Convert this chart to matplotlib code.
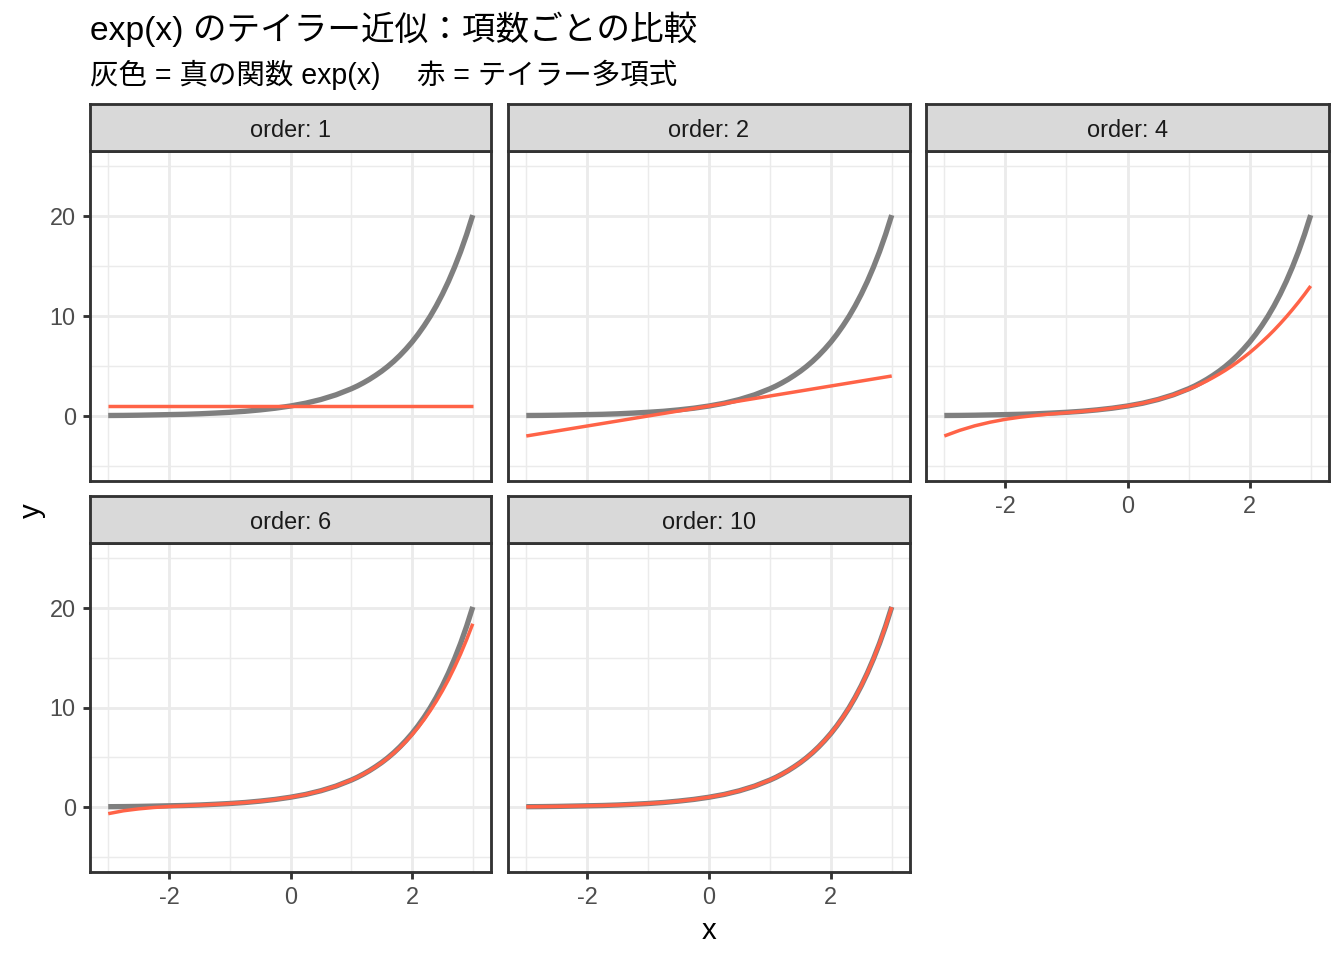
import numpy as np
import matplotlib.pyplot as plt

plt.rcParams['font.family'] = ['Liberation Sans', 'Noto Sans CJK JP', 'DejaVu Sans']
plt.rcParams['axes.unicode_minus'] = False

# sample points along x (denser where the curves bend)
x = [-3.0, -2.75, -2.5, -2.25, -2.0, -1.75, -1.5, -1.25, -1.0, -0.75, -0.5, -0.25,
     0.0, 0.25, 0.5, 0.75,
     1.0, 1.1, 1.2, 1.3, 1.4, 1.5, 1.6, 1.7, 1.8, 1.9,
     2.0, 2.1, 2.2, 2.3, 2.4, 2.5, 2.6, 2.7, 2.8, 2.9, 3.0]

# grey curve: true exp(x)
true_y = [0.05, 0.06, 0.08, 0.11, 0.14, 0.17, 0.22, 0.29, 0.37, 0.47, 0.61, 0.78,
          1.0, 1.28, 1.65, 2.12,
          2.72, 3.00, 3.32, 3.67, 4.06, 4.48, 4.95, 5.47, 6.05, 6.69,
          7.39, 8.17, 9.03, 9.97, 11.02, 12.18, 13.46, 14.88, 16.44, 18.17, 20.09]

# red curves: Taylor polynomial per panel
taylor_1 = [1.0] * 37
taylor_2 = [-2.0, -1.75, -1.5, -1.25, -1.0, -0.75, -0.5, -0.25, 0.0, 0.25, 0.5, 0.75,
            1.0, 1.25, 1.5, 1.75,
            2.0, 2.1, 2.2, 2.3, 2.4, 2.5, 2.6, 2.7, 2.8, 2.9,
            3.0, 3.1, 3.2, 3.3, 3.4, 3.5, 3.6, 3.7, 3.8, 3.9, 4.0]
taylor_4 = [-2.0, -1.44, -0.98, -0.62, -0.33, -0.11, 0.06, 0.21, 0.33, 0.46, 0.60, 0.78,
            1.0, 1.28, 1.65, 2.10,
            2.67, 2.93, 3.21, 3.51, 3.84, 4.19, 4.56, 4.96, 5.39, 5.85,
            6.33, 6.85, 7.40, 7.97, 8.58, 9.23, 9.91, 10.63, 11.38, 12.17, 13.0]
taylor_6 = [-0.65, -0.36, -0.17, -0.03, 0.07, 0.14, 0.21, 0.28, 0.37, 0.47, 0.61, 0.78,
            1.0, 1.28, 1.65, 2.12,
            2.72, 3.00, 3.32, 3.66, 4.04, 4.46, 4.92, 5.43, 5.99, 6.60,
            7.27, 8.00, 8.80, 9.68, 10.63, 11.67, 12.80, 14.04, 15.37, 16.83, 18.4]
taylor_10 = [0.04, 0.06, 0.08, 0.11, 0.14, 0.17, 0.22, 0.29, 0.37, 0.47, 0.61, 0.78,
             1.0, 1.28, 1.65, 2.12,
             2.72, 3.00, 3.32, 3.67, 4.06, 4.48, 4.95, 5.47, 6.05, 6.69,
             7.39, 8.17, 9.03, 9.97, 11.02, 12.18, 13.46, 14.87, 16.44, 18.16, 20.06]

orders = [1, 2, 4, 6, 10]
approx = [taylor_1, taylor_2, taylor_4, taylor_6, taylor_10]

W, H = 1344, 960
fig = plt.figure(figsize=(7, 5), dpi=192)

col_x = [(90, 491), (508, 910), (926, 1329)]
row_y = [(104, 151, 481), (496, 543, 872)]

def box(x0, x1, y0, y1):
    return [x0 / W, 1 - y1 / H, (x1 - x0) / W, (y1 - y0) / H]

for i, (order, yy) in enumerate(zip(orders, approx)):
    r, c = divmod(i, 3)
    x0, x1 = col_x[c]
    s0, p0, p1 = row_y[r]

    ax = fig.add_axes(box(x0, x1, p0, p1))
    ax.plot(x, true_y, color='#7F7F7F', lw=2.0, solid_capstyle='butt', zorder=3)
    ax.plot(x, yy, color='#FF6347', lw=1.3, solid_capstyle='butt', zorder=4)
    ax.set_xlim(-3.3, 3.3)
    ax.set_ylim(-6.5, 26.5)
    ax.set_xticks([-2, 0, 2])
    ax.set_yticks([0, 10, 20])
    ax.set_xticks([-3, -1, 1, 3], minor=True)
    ax.set_yticks([-5, 5, 15, 25], minor=True)
    ax.grid(which='major', color='#EBEBEB', lw=1.07, zorder=0)
    ax.grid(which='minor', color='#EBEBEB', lw=0.53, zorder=0)
    ax.set_axisbelow(True)
    for sp in ax.spines.values():
        sp.set_color('#333333')
        sp.set_linewidth(1.07)
    ax.tick_params(which='minor', length=0)
    ax.tick_params(which='major', length=2.75, width=1.07, color='#333333',
                   labelsize=8.8, labelcolor='#4D4D4D', pad=2.6)
    if c != 0:
        ax.tick_params(axis='y', left=False, labelleft=False)
    if not (r == 1 or c == 2):
        ax.tick_params(axis='x', bottom=False, labelbottom=False)

    st = fig.add_axes(box(x0, x1, s0, p0))
    st.set_facecolor('#D9D9D9')
    st.set_xticks([])
    st.set_yticks([])
    for sp in st.spines.values():
        sp.set_color('#333333')
        sp.set_linewidth(1.07)
    st.text(0.5, 0.44, f'order: {order}', ha='center', va='center',
            fontsize=8.8, color='#1A1A1A', transform=st.transAxes)

fig.text(90 / W, 1 - 29 / H, 'exp(x) のテイラー近似：項数ごとの比較',
         fontsize=12.6, ha='left', va='center', color='black')
fig.text(90 / W, 1 - 75 / H, '灰色 = 真の関数 exp(x)　 赤 = テイラー多項式',
         fontsize=10.7, ha='left', va='center', color='black')
fig.text(709 / W, 1 - 931 / H, 'x', fontsize=11, ha='center', va='center')
fig.text(32 / W, 1 - 511 / H, 'y', fontsize=11, ha='center', va='center', rotation=90)

fig.savefig('out.png', dpi=192)
